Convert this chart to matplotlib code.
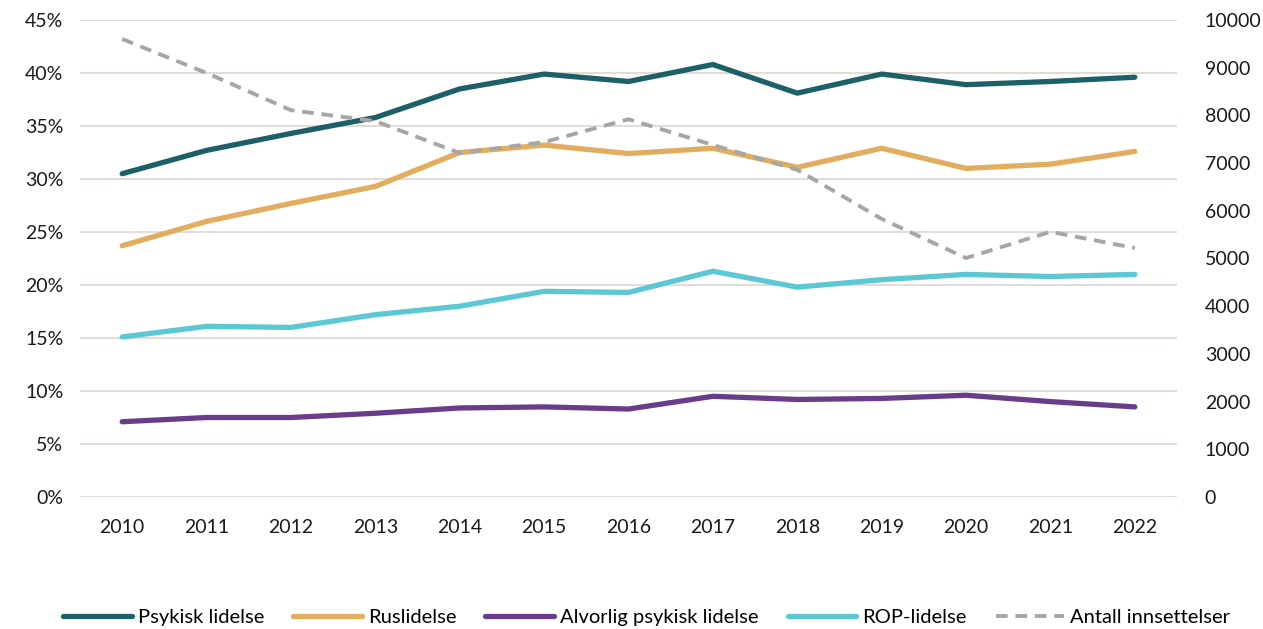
import numpy as np
import matplotlib.pyplot as plt
from matplotlib.ticker import FuncFormatter

plt.rcParams['font.family'] = ['Lato', 'DejaVu Sans']

years = ['2010', '2011', '2012', '2013', '2014', '2015', '2016',
         '2017', '2018', '2019', '2020', '2021', '2022']

psykisk = [30.5, 32.7, 34.3, 35.8, 38.5, 39.9, 39.2, 40.8, 38.1, 39.9, 38.9, 39.2, 39.6]
rus = [23.7, 26.0, 27.7, 29.3, 32.5, 33.2, 32.4, 32.9, 31.1, 32.9, 31.0, 31.4, 32.6]
alvorlig = [7.1, 7.5, 7.5, 7.9, 8.4, 8.5, 8.3, 9.5, 9.2, 9.3, 9.6, 9.0, 8.5]
rop = [15.1, 16.1, 16.0, 17.2, 18.0, 19.4, 19.3, 21.3, 19.8, 20.5, 21.0, 20.8, 21.0]
antall = [9600, 8890, 8110, 7880, 7210, 7440, 7920, 7380, 6860, 5830, 5010, 5560, 5220]

fig = plt.figure(figsize=(12.63, 6.29), dpi=100)
ax = fig.add_axes([80 / 1263, 1 - 497 / 629, (1177 - 80) / 1263, (497 - 20) / 629])
ax2 = ax.twinx()

x = np.arange(len(years))
lw = 3.8
h1, = ax.plot(x, psykisk, color='#1d6068', lw=lw, solid_capstyle='round', label='Psykisk lidelse')
h2, = ax.plot(x, rus, color='#e3ad5f', lw=lw, solid_capstyle='round', label='Ruslidelse')
h3, = ax.plot(x, alvorlig, color='#6a3d8a', lw=lw, solid_capstyle='round', label='Alvorlig psykisk lidelse')
h4, = ax.plot(x, rop, color='#5bc8d4', lw=lw, solid_capstyle='round', label='ROP-lidelse')
h5, = ax2.plot(x, antall, color='#a6a6a6', lw=2.8, ls=(0, (3, 2)), label='Antall innsettelser')

ax.set_xlim(-0.5, len(years) - 0.5)
ax.set_ylim(0, 45)
ax.set_yticks(np.arange(0, 46, 5))
ax.yaxis.set_major_formatter(FuncFormatter(lambda v, p: f'{v:.0f}%'))
ax2.set_ylim(0, 10000)
ax2.set_yticks(np.arange(0, 10001, 1000))

ax.set_xticks(x)
ax.set_xticklabels(years)
ax.grid(axis='y', color='#dedad2', lw=1.3)
ax.set_axisbelow(True)

for a in (ax, ax2):
    for s in a.spines.values():
        s.set_visible(False)
    a.tick_params(length=0, labelsize=14, colors='#1a1a1a')
ax.tick_params(axis='y', pad=12)
ax.tick_params(axis='x', pad=16)
ax2.tick_params(axis='y', pad=20)

fig.legend(handles=[h1, h2, h3, h4, h5], loc='center', bbox_to_anchor=(0.512, 1 - 617 / 629),
           ncol=5, frameon=False, fontsize=14.5, handlelength=3.4, handletextpad=0.3,
           columnspacing=1.45)

fig.savefig('out.png', dpi=100)
